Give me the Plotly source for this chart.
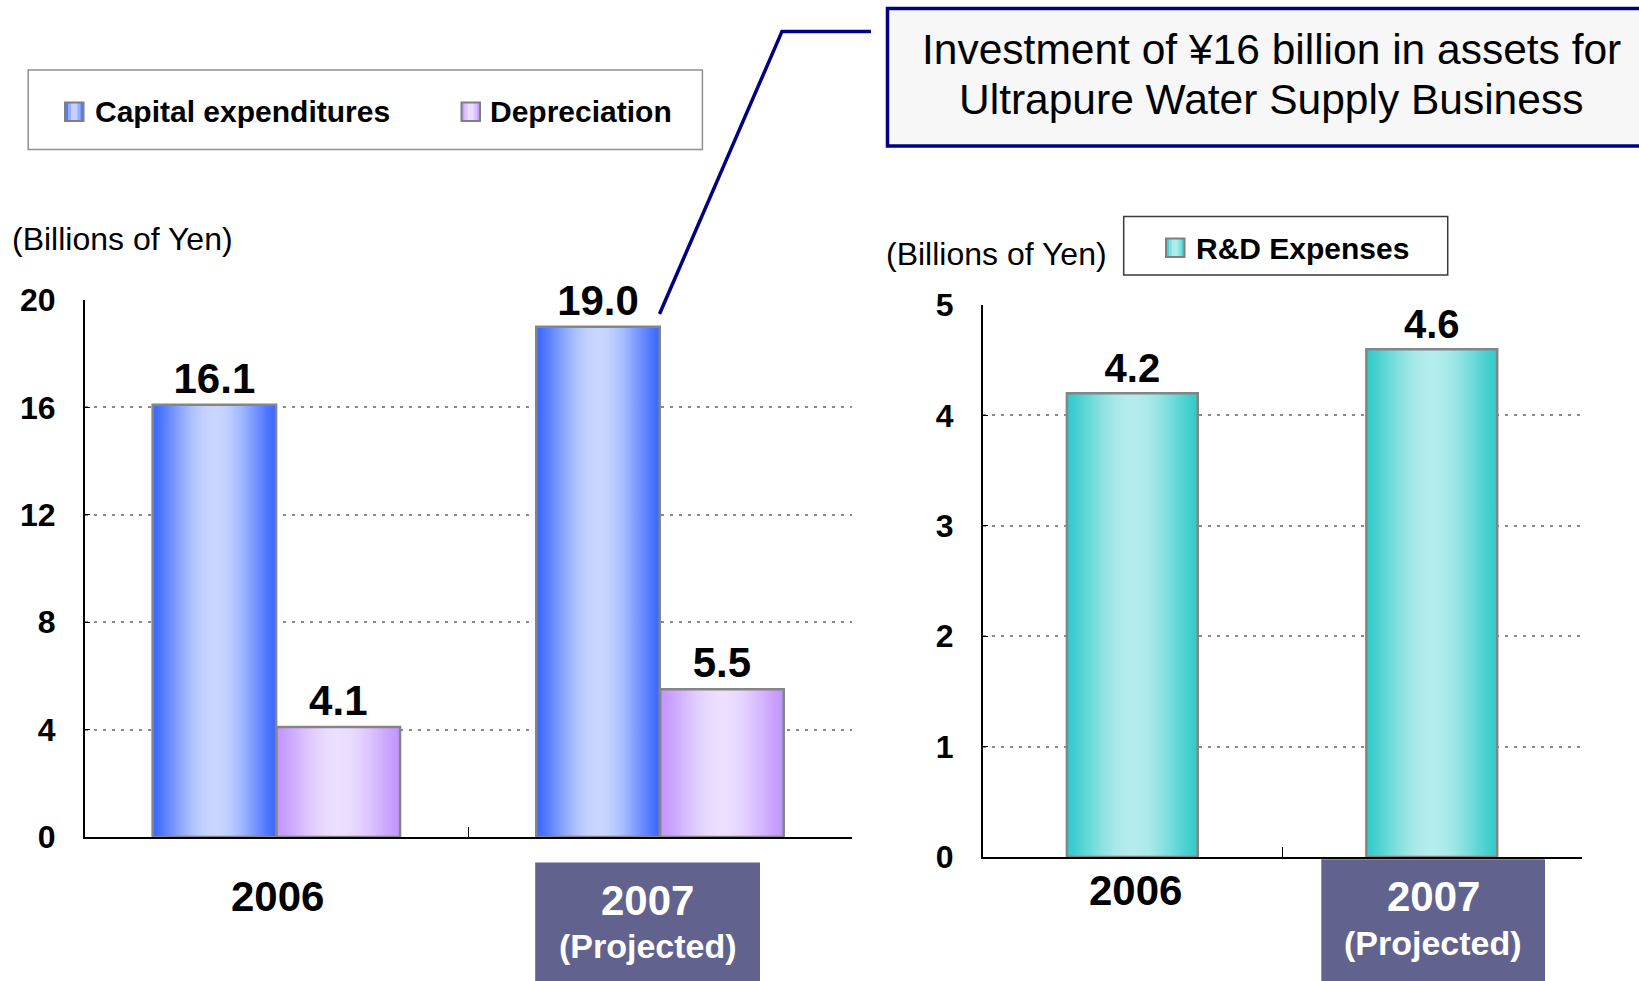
import numpy as np
import plotly.graph_objects as go

# ---- data -------------------------------------------------------------
years = ["2006", "2007"]
capital_expenditures = [16.1, 19.0]
depreciation = [4.1, 5.5]
rd_expenses = [4.2, 4.6]
left_ticks = [0, 4, 8, 12, 16, 20]
right_ticks = [0, 1, 2, 3, 4, 5]

W, H = 1639, 981
FONT = "Liberation Sans, Arial, Helvetica, sans-serif"


def fx(px):
    """pixel column -> paper x"""
    return px / W


def fy(px):
    """pixel row (from top) -> paper y"""
    return 1 - px / H


def hex_rgb(h):
    h = h.lstrip("#")
    return [int(h[i:i + 2], 16) for i in (0, 2, 4)]


def blend(c1, c2, t):
    a, b = hex_rgb(c1), hex_rgb(c2)
    r = [round(a[i] + (b[i] - a[i]) * t) for i in range(3)]
    return f"rgb({r[0]},{r[1]},{r[2]})"


def shade(edge, mid, n):
    """horizontal 'cylinder' shading: saturated edges, pale centre"""
    out = []
    for i in range(n):
        t = (i + 0.5) / n
        k = np.sin(np.pi * t) ** 1.3
        out.append(blend(edge, mid, k))
    return out


fig = go.Figure()


def gradient_bars(x, y, start, width, edge, mid, xa, ya, label_size, n=90):
    step = width / n
    for i, c in enumerate(shade(edge, mid, n)):
        w = step * (1.6 if i < n - 1 else 1.0)
        fig.add_trace(go.Bar(
            x=x, y=y, offset=start + i * step, width=w,
            marker=dict(color=c, line=dict(width=0)),
            xaxis=xa, yaxis=ya, showlegend=False, hoverinfo="skip"))
    # outline and value label
    fig.add_trace(go.Bar(
        x=x, y=y, offset=start, width=width,
        marker=dict(color="rgba(0,0,0,0)", line=dict(color="#858585", width=2.5)),
        text=[f"{v:.1f}" for v in y], textposition="outside",
        textfont=dict(family=FONT, size=label_size, color="black", weight="bold"),
        constraintext="none", cliponaxis=False,
        xaxis=xa, yaxis=ya, showlegend=False, hoverinfo="skip"))


BLUE_EDGE, BLUE_MID = "#3b68ff", "#c9d6ff"
LILAC_EDGE, LILAC_MID = "#c295ff", "#ecdfff"
TEAL_EDGE, TEAL_MID = "#33cbcb", "#b4ecec"

gradient_bars(years, capital_expenditures, -0.323, 0.322, BLUE_EDGE, BLUE_MID, "x", "y", 42)
gradient_bars(years, depreciation, 0.0, 0.322, LILAC_EDGE, LILAC_MID, "x", "y", 42)
gradient_bars(years, rd_expenses, -0.2185, 0.437, TEAL_EDGE, TEAL_MID, "x2", "y2", 40)

axis_common = dict(showline=True, linecolor="black", linewidth=1.5, mirror=False,
                   automargin=False)
xcommon = dict(type="category", categoryorder="array", categoryarray=years,
               range=[-0.5, 1.5], ticks="inside", tickson="boundaries",
               ticklen=10, tickwidth=1.3, tickcolor="black",
               showticklabels=False, showgrid=False, zeroline=False, **axis_common)
ycommon = dict(ticks="inside", ticklen=6, tickwidth=1.3, tickcolor="black",
               tickfont=dict(family=FONT, size=32, color="black", weight="bold"),
               showgrid=True, gridcolor="#8a8a8a", griddash="3px,6px", gridwidth=1.8,
               zeroline=False, ticklabelstandoff=21, **axis_common)

fig.update_layout(
    template="none",
    width=W, height=H, autosize=False,
    margin=dict(l=0, r=0, t=0, b=0, pad=0),
    paper_bgcolor="white", plot_bgcolor="rgba(0,0,0,0)",
    barmode="overlay", showlegend=False,
    font=dict(family=FONT, color="black"),
    xaxis=dict(domain=[fx(84.7), fx(852)], anchor="y", **xcommon),
    yaxis=dict(domain=[fy(837), fy(300)], anchor="x", range=[0, 20],
               tickvals=left_ticks, **ycommon),
    xaxis2=dict(domain=[fx(982.6), fx(1581.5)], anchor="y2", **xcommon),
    yaxis2=dict(domain=[fy(857), fy(305)], anchor="x2", range=[0, 5],
                tickvals=right_ticks, **ycommon),
)

shapes = []
annotations = []


def text(x, y, s, size, bold=False, color="black", xanchor="center"):
    annotations.append(dict(
        x=fx(x), y=fy(y), xref="paper", yref="paper", text=s, showarrow=False,
        xanchor=xanchor, yanchor="middle",
        font=dict(family=FONT, size=size, color=color,
                  weight="bold" if bold else "normal")))


def rect(x0, y0, x1, y1, fill, line_color=None, line_width=0):
    shapes.append(dict(
        type="rect", xref="paper", yref="paper",
        x0=fx(x0), x1=fx(x1), y0=fy(y1), y1=fy(y0),
        fillcolor=fill, line=dict(color=line_color or fill, width=line_width),
        layer="above"))


def swatch(x0, y0, size, edge, mid):
    n = 6
    cols = shade(edge, mid, n)
    for i, c in enumerate(cols):
        rect(x0 + i * size / n, y0, x0 + (i + 1) * size / n + 0.3, y0 + size, c)
    rect(x0, y0, x0 + size, y0 + size, "rgba(0,0,0,0)", "#7f7f7f", 2)


# legend of the left chart
rect(28.2, 70, 702.4, 149.5, "white", "#8f8f8f", 1.5)
swatch(65, 102.5, 18.5, BLUE_EDGE, BLUE_MID)
text(93, 112, "Capital expenditures", 30, bold=True, xanchor="left")
swatch(461.5, 102.5, 18.5, LILAC_EDGE, LILAC_MID)
text(488, 112, "Depreciation", 30, bold=True, xanchor="left")

# legend of the right chart
rect(1123.7, 216.4, 1447.7, 274.9, "white", "#3a3a3a", 1.5)
swatch(1166, 238.5, 18.5, TEAL_EDGE, TEAL_MID)
text(1193.7, 248, "R&D Expenses", 30, bold=True, xanchor="left")

# unit captions
text(9.5, 238.5, "(Billions of Yen)", 32, xanchor="left")
text(884.5, 254, "(Billions of Yen)", 32, xanchor="left")

# call-out about the 2007 investment
rect(887.5, 8.5, 1660, 146, "#f7f7f7", "#000080", 3.5)
text(1271, 49.5, "Investment of ¥16 billion in assets for", 42.5)
text(1271, 99.5, "Ultrapure Water Supply Business", 42.5)
shapes.append(dict(type="path", xref="paper", yref="paper",
                   path=f"M {fx(659.5)} {fy(314)} L {fx(782)} {fy(31.4)} L {fx(871)} {fy(31.4)}",
                   line=dict(color="#000080", width=3.5), layer="above"))

# category labels
text(277, 896, years[0], 42, bold=True)
rect(535.2, 862.4, 760, 985, "#62628f")
text(647.5, 900, years[1], 42, bold=True, color="white")
text(647.5, 946, "(Projected)", 34, bold=True, color="white")

text(1135, 890, years[0], 42, bold=True)
rect(1321.3, 859.2, 1545, 985, "#62628f")
text(1433, 896, years[1], 42, bold=True, color="white")
text(1433, 943, "(Projected)", 34, bold=True, color="white")

fig.update_layout(shapes=shapes, annotations=annotations)

fig.write_html("out.html", config={"displayModeBar": False})
